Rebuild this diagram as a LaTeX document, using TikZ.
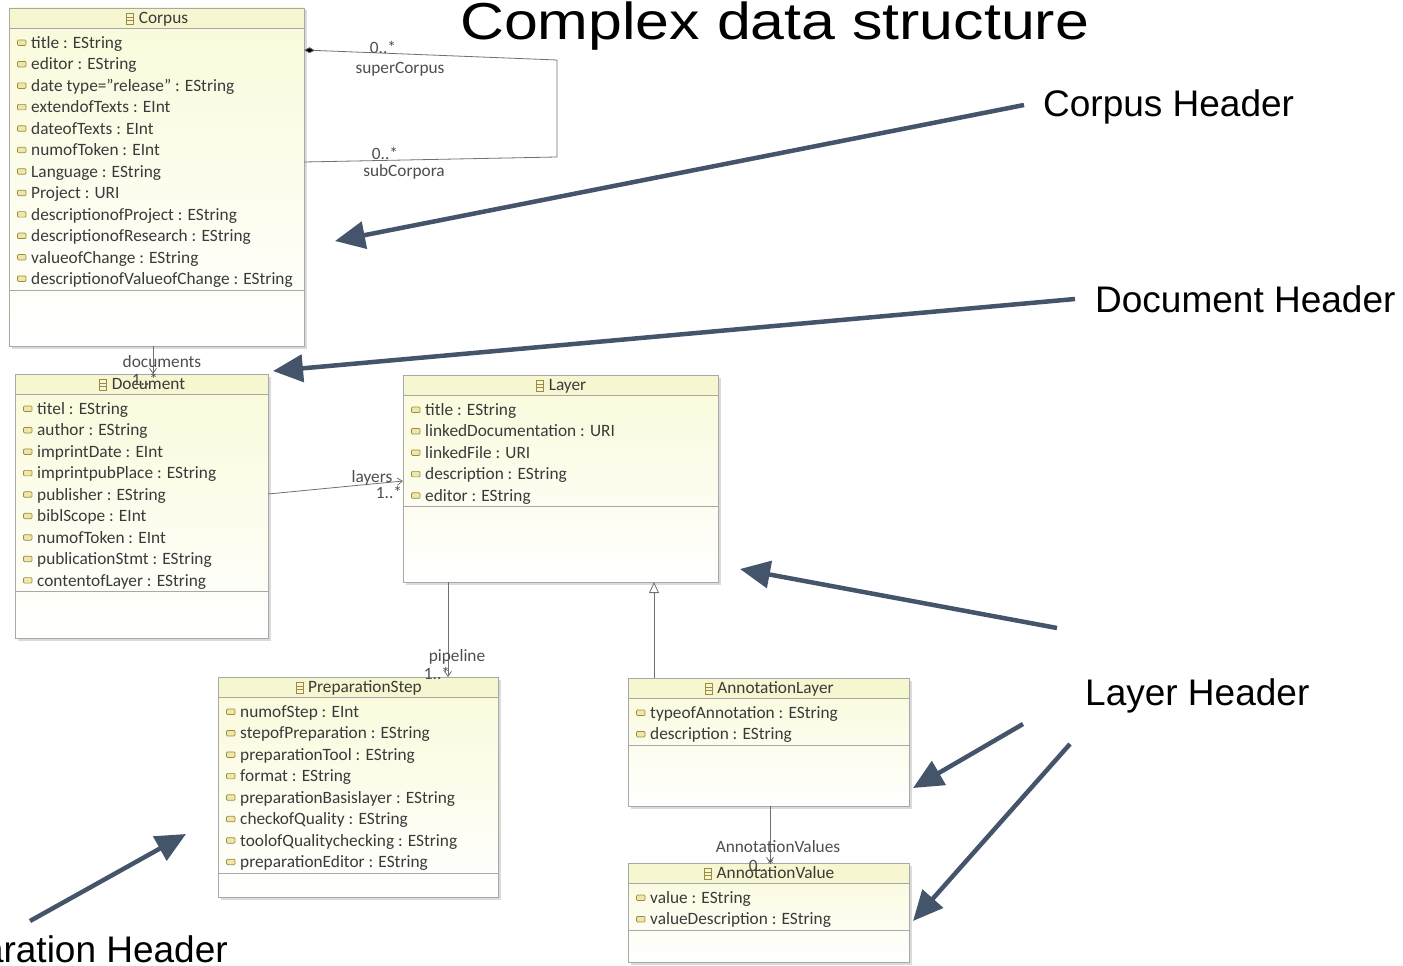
\documentclass[tikz,border=0pt]{standalone}
\usepackage{fontspec}
\setmainfont{Carlito}
\newfontfamily\arialf{Liberation Sans}
\usetikzlibrary{arrows.meta,fit,calc}

\definecolor{bordergray}{HTML}{A8A8A8}
\definecolor{headfill}{HTML}{F6F6D0}
\definecolor{bodytop}{HTML}{FAFADA}
\definecolor{iconbrown}{HTML}{9C8A48}
\definecolor{iconfill}{HTML}{EFE7A6}
\definecolor{txtgray}{HTML}{3A3A3A}
\definecolor{lblgray}{HTML}{4E4E4E}
\definecolor{slate}{HTML}{44546A}
\definecolor{linegray}{HTML}{707070}

\tikzset{
  umlfont/.style={font=\fontsize{17.3}{20}\selectfont},
  classbox/.style={draw=bordergray, line width=0.9pt, top color=bodytop, bottom color=white, inner sep=0pt, outer sep=0pt},
  attrtext/.style={umlfont, anchor=base west, inner sep=0pt, text=txtgray},
  clstitle/.style={umlfont, anchor=base, inner sep=0pt, text=txtgray},
  attricon/.style={draw=iconbrown, fill=iconfill, line width=0.7pt, rounded corners=1pt},
  lbl/.style={umlfont, anchor=base, inner sep=0pt, text=lblgray},
  assoc/.style={draw=linegray, line width=0.8pt},
  bigarrow/.style={draw=slate, line width=4.5pt, -{Triangle[length=30pt,width=27pt]}, shorten >=0pt},
  hdrtext/.style={font=\arialf\fontsize{37}{41}\selectfont, inner sep=0pt, text=black},
}

% #1 name, #2 x1, #3 y1, #4 x2, #5 y2, #6 title, #7 attributes
\newcommand{\umlclass}[7]{%
  \fill[black!14] (#2+2.5,#3+2.5) rectangle (#4+2.5,#5+2.5);
  \node[classbox, fit={(#2,#3) (#4,#5)}] (#1) {};
  \fill[headfill] (#2,#3) rectangle (#4,#3+20);
  \draw[bordergray, line width=0.8pt] (#2,#3+20) -- (#4,#3+20);
  \node[clstitle] (#1-t) at ({(#2+#4)/2+7},#3+15.5) {#6};
  \draw[iconbrown, line width=0.7pt] ([xshift=-5pt,yshift=-1pt]#1-t.base west) rectangle ++(-7pt,11pt);
  \draw[iconbrown, line width=0.6pt] ([xshift=-5pt,yshift=3pt]#1-t.base west) -- ++(-7pt,0pt)
       ([xshift=-5pt,yshift=6.5pt]#1-t.base west) -- ++(-7pt,0pt);
  \foreach \a [count=\i] in {#7} {%
    \pgfmathsetmacro\yy{#3+35+(\i-1)*21.45}
    \draw[attricon] (#2+8.5,\yy-3) rectangle (#2+17,\yy+2.5);
    \node[attrtext] at (#2+22,\yy+5.5) {\a};
    \xdef\lasty{\yy}
  }
  \draw[bordergray, line width=0.8pt] (#2,\lasty+11) -- (#4,\lasty+11);
  \draw[bordergray, line width=0.9pt] (#1.north west) rectangle (#1.south east);
}

\begin{document}
\begin{tikzpicture}[x=1pt, y=-1pt]
\useasboundingbox[fill=white] (0,0) rectangle (1403,966);

% title
\node[anchor=base west, inner sep=0pt] (title) at (460,40)
  {\arialf\scalebox{1.17}[1]{\fontsize{52}{60}\selectfont Complex data structure}};

% classes
\umlclass{corpus}{9}{8}{304}{346}{Corpus}{title : EString, editor : EString, date type="release" : EString, extendofTexts : EInt, dateofTexts : EInt, numofToken : EInt, Language : EString, Project : URI, descriptionofProject : EString, descriptionofResearch : EString, valueofChange : EString, descriptionofValueofChange : EString}
\umlclass{document}{15}{374}{268}{638}{Document}{titel : EString, author : EString, imprintDate : EInt, imprintpubPlace : EString, publisher : EString, biblScope : EInt, numofToken : EInt, publicationStmt : EString, contentofLayer : EString}
\umlclass{layer}{403}{375}{718}{582}{Layer}{title : EString, linkedDocumentation : URI, linkedFile : URI, description : EString, editor : EString}
\umlclass{prep}{218}{677}{498}{897}{PreparationStep}{numofStep : EInt, stepofPreparation : EString, preparationTool : EString, format : EString, preparationBasislayer : EString, checkofQuality : EString, toolofQualitychecking : EString, preparationEditor : EString}
\umlclass{annlayer}{628}{678}{909}{806}{AnnotationLayer}{typeofAnnotation : EString, description : EString}
\umlclass{annvalue}{628}{863}{909}{962}{AnnotationValue}{value : EString, valueDescription : EString}

% superCorpus / subCorpora loop
\coordinate (loopA) at (557,60);
\coordinate (loopB) at (557,157);
\draw[assoc, {Diamond[length=11pt,width=6pt,fill=black]}-] ([yshift=127pt]corpus.east) -- (loopA) -- (loopB) -- ([yshift=15pt]corpus.east);
\node[lbl] (l1) at (383,54) {0..*};
\node[lbl] (l2) at (400,74) {superCorpus};
\node[lbl] (l3) at (385,159) {0..*};
\node[lbl] (l4) at (404,176) {subCorpora};

% documents
\draw[assoc, -{Straight Barb[length=5pt,width=7pt]}] ([xshift=-3.5pt]corpus.south) -- ([xshift=11.5pt]document.north);
\node[lbl] (l5) at (162,367) {documents};
\node[lbl] (l6) at (145,385) {1..*};

% layers
\draw[assoc, -{Straight Barb[length=5pt,width=7pt]}] ([yshift=12pt]document.east) -- ([yshift=-2.5pt]layer.west);
\node[lbl] (l7) at (372,482) {layers};
\node[lbl] (l8) at (389,498) {1..*};

% pipeline
\draw[assoc, -{Straight Barb[length=5pt,width=7pt]}] ([xshift=-112.5pt]layer.south) -- ([xshift=90pt]prep.north);
\node[lbl] (l9) at (457,661) {pipeline};
\node[lbl] (l10) at (437,679) {1..*};

% inheritance
\draw[assoc, -{Triangle[open, length=11pt, width=10pt, fill=white]}] ([xshift=-114.5pt]annlayer.north) -- ([xshift=93.5pt]layer.south);

% AnnotationValues
\draw[assoc, -{Straight Barb[length=5pt,width=7pt]}] ([xshift=1.5pt]annlayer.south) -- ([xshift=1.5pt]annvalue.north);
\node[lbl] (l11) at (778,852) {AnnotationValues};
\node[lbl] (l12) at (762,871) {0..*};

% header labels
\node[hdrtext, anchor=base west] (hc) at (1043,117) {Corpus Header};
\node[hdrtext, anchor=base west] (hd) at (1095,312) {Document Header};
\node[hdrtext, anchor=base west] (hl) at (1085,705) {Layer Header};
\node[hdrtext, anchor=base east] (hp) at (228,962) {Preparation Header};

% big arrows
\coordinate (s1) at (1024,105); \coordinate (t1) at (335,241);
\coordinate (s2) at (1075,299); \coordinate (t2) at (273,371);
\coordinate (s3) at (1057,628); \coordinate (t3) at (740,569);
\coordinate (s4) at (1023,724); \coordinate (t4) at (913,788);
\coordinate (s5) at (1070,744); \coordinate (t5) at (913,921);
\coordinate (s6) at (30,921);   \coordinate (t6) at (186,834);
\draw[bigarrow] (s1) -- (t1);
\draw[bigarrow] (s2) -- (t2);
\draw[bigarrow] (s3) -- (t3);
\draw[bigarrow] (s4) -- (t4);
\draw[bigarrow] (s5) -- (t5);
\draw[bigarrow] (s6) -- (t6);
\end{tikzpicture}
\end{document}
